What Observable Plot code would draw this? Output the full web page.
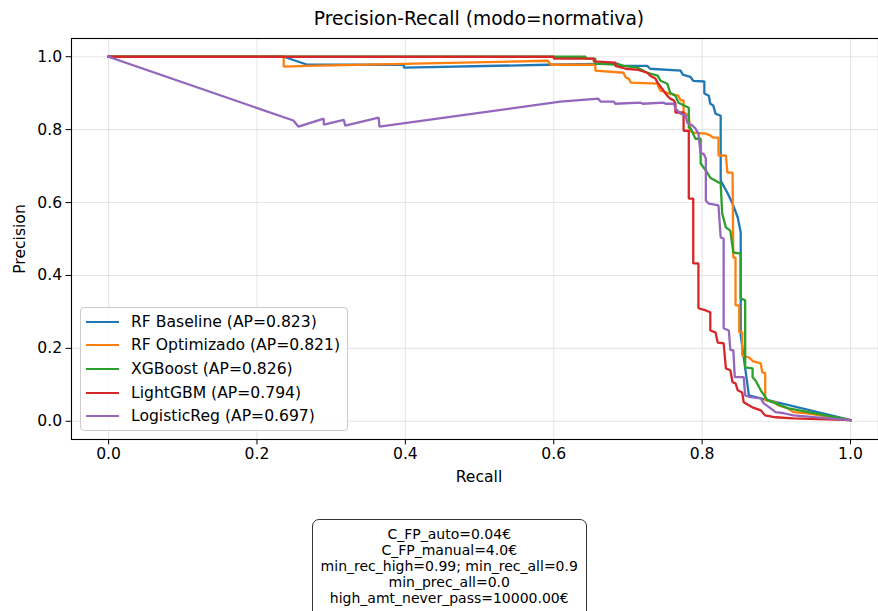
<!DOCTYPE html>
<html><head><meta charset="utf-8">
<script src="https://cdn.jsdelivr.net/npm/d3@7"></script>
<script src="https://cdn.jsdelivr.net/npm/@observablehq/plot@0.6"></script>
<style>
html,body{margin:0;padding:0;background:#fff;overflow:hidden;}
#wrap{position:relative;width:878px;height:611px;font-family:"DejaVu Sans",sans-serif;color:#000;overflow:hidden;}
#title{position:absolute;left:0;top:8px;width:958px;text-align:center;font-size:18.7px;line-height:22px;}
#chart{position:absolute;left:0;top:0;}
#xlabel{position:absolute;left:0;width:958px;top:468px;text-align:center;font-size:15.6px;line-height:18px;}
#ylabel{position:absolute;left:20px;top:238.5px;font-size:15.6px;line-height:18px;transform:translate(-50%,-50%) rotate(-90deg);white-space:nowrap;}
#legend{position:absolute;left:79.5px;top:306.5px;width:268px;height:124px;box-sizing:border-box;border:1px solid #cccccc;border-radius:4px;background:rgba(255,255,255,0.8);}
.lrow{position:absolute;left:0;height:20px;width:260px;}
.lline{position:absolute;left:5px;top:9px;width:33px;height:2.3px;}
.ltext{position:absolute;left:50.5px;top:0;font-size:15.6px;line-height:20px;white-space:nowrap;}
#note{position:absolute;left:311.5px;top:518.5px;width:275.5px;height:130px;box-sizing:border-box;border:1px solid #333;border-radius:7px;background:#fff;text-align:center;font-size:14px;line-height:16.1px;padding-top:6.5px;}
</style></head>
<body>
<div id="wrap">
  <div id="chart"></div>
  <div id="title">Precision-Recall (modo=normativa)</div>
  <div id="xlabel">Recall</div>
  <div id="ylabel">Precision</div>
  <div id="legend"></div>
  <div id="note"></div>
</div>
<script>
// ---- data ----
const modelNames = ["RF Baseline", "RF Optimizado", "XGBoost", "LightGBM", "LogisticReg"];
const apValues = [0.823, 0.821, 0.826, 0.794, 0.697];
const colors = ["#1f77b4", "#ff7f0e", "#2ca02c", "#d62728", "#9467bd"];
const tickValues = [0.0, 0.2, 0.4, 0.6, 0.8, 1.0];
const noteLines = ["C_FP_auto=0.04€", "C_FP_manual=4.0€", "min_rec_high=0.99; min_rec_all=0.9", "min_prec_all=0.0", "high_amt_never_pass=10000.00€"];

const rfBaselineRecall = [0,0.236,0.268,0.398,0.398,0.592,0.686,0.690,0.726,0.730,0.771,0.774,0.784,0.788,0.803,0.803,0.809,0.811,0.815,0.818,0.825,0.825,0.834,0.841,0.848,0.852,0.852,0.863,1.0];
const rfBaselinePrecision = [1,1,0.978,0.978,0.970,0.978,0.981,0.975,0.975,0.967,0.962,0.951,0.945,0.934,0.932,0.899,0.893,0.871,0.866,0.844,0.838,0.660,0.627,0.597,0.559,0.518,0.236,0.071,0.003];

const rfOptRecall = [0,0.236,0.236,0.268,0.592,0.596,0.656,0.656,0.694,0.697,0.701,0.704,0.740,0.741,0.744,0.753,0.755,0.768,0.771,0.775,0.775,0.782,0.784,0.788,0.805,0.811,0.815,0.822,0.822,0.832,0.834,0.841,0.842,0.845,0.845,0.850,0.850,0.854,0.854,0.863,0.869,0.879,0.881,0.885,0.885,0.899,0.902,0.915,0.923,0.942,1.0];
const rfOptPrecision = [1,1,0.973,0.975,0.989,0.978,0.978,0.962,0.956,0.943,0.940,0.929,0.926,0.918,0.907,0.901,0.899,0.893,0.880,0.880,0.847,0.838,0.797,0.792,0.789,0.784,0.778,0.778,0.729,0.729,0.682,0.682,0.449,0.449,0.318,0.318,0.244,0.244,0.181,0.175,0.164,0.159,0.134,0.132,0.058,0.052,0.044,0.036,0.025,0.022,0.003];

const xgbRecall = [0,0.643,0.643,0.656,0.656,0.690,0.694,0.713,0.726,0.740,0.744,0.753,0.757,0.764,0.768,0.782,0.782,0.784,0.791,0.798,0.798,0.805,0.811,0.818,0.825,0.827,0.832,0.838,0.842,0.852,0.852,0.858,0.858,0.868,0.868,0.872,0.879,0.888,0.915,1.0];
const xgbPrecision = [1,1,0.995,0.995,0.981,0.978,0.975,0.970,0.956,0.948,0.934,0.926,0.901,0.893,0.874,0.860,0.805,0.805,0.775,0.775,0.707,0.688,0.668,0.660,0.652,0.570,0.532,0.523,0.463,0.460,0.337,0.332,0.148,0.145,0.121,0.112,0.085,0.058,0.036,0.003];

const lgbmRecall = [0,0.600,0.600,0.654,0.654,0.683,0.683,0.697,0.714,0.726,0.730,0.737,0.740,0.744,0.748,0.753,0.757,0.762,0.764,0.764,0.775,0.775,0.782,0.782,0.788,0.788,0.795,0.795,0.805,0.811,0.811,0.818,0.821,0.829,0.832,0.838,0.841,0.845,0.848,0.854,0.856,0.863,0.868,0.879,0.885,0.899,0.923,1.0];
const lgbmPrecision = [1,1,0.995,0.995,0.987,0.984,0.975,0.967,0.964,0.956,0.948,0.940,0.929,0.918,0.907,0.893,0.885,0.880,0.871,0.847,0.847,0.797,0.797,0.611,0.611,0.433,0.433,0.310,0.304,0.299,0.249,0.244,0.216,0.214,0.145,0.140,0.107,0.104,0.085,0.079,0.052,0.044,0.038,0.030,0.016,0.011,0.008,0.003];

const logRegRecall = [0,0.249,0.256,0.290,0.290,0.317,0.319,0.364,0.365,0.609,0.660,0.663,0.681,0.683,0.717,0.720,0.748,0.751,0.762,0.764,0.771,0.778,0.780,0.787,0.791,0.795,0.798,0.802,0.805,0.805,0.809,0.822,0.825,0.829,0.829,0.836,0.838,0.842,0.844,0.856,0.858,0.865,0.879,0.883,0.892,0.899,0.910,0.923,1.0];
const logRegPrecision = [1,0.825,0.808,0.830,0.814,0.827,0.811,0.833,0.808,0.877,0.885,0.877,0.877,0.871,0.874,0.871,0.874,0.871,0.871,0.858,0.844,0.838,0.819,0.811,0.803,0.789,0.734,0.734,0.721,0.605,0.597,0.592,0.504,0.501,0.255,0.249,0.195,0.195,0.121,0.121,0.071,0.066,0.063,0.049,0.036,0.025,0.022,0.016,0.003];

const curves = [
  [rfBaselineRecall, rfBaselinePrecision],
  [rfOptRecall, rfOptPrecision],
  [xgbRecall, xgbPrecision],
  [lgbmRecall, lgbmPrecision],
  [logRegRecall, logRegPrecision]
];

const lineMarks = curves.map(([rec, prec], i) =>
  Plot.line(rec.map((r, j) => ({recall: r, precision: prec[j]})),
    {x: "recall", y: "precision", stroke: colors[i], strokeWidth: 2.3, strokeLinejoin: "miter", strokeLinecap: "square"})
);

const chart = Plot.plot({
  width: 878, height: 490,
  marginTop: 38, marginBottom: 51, marginLeft: 71, marginRight: 0,
  style: {fontFamily: "DejaVu Sans", fontSize: "15.6px", color: "#000", background: "transparent"},
  x: {domain: [-0.05, 1.0377], ticks: tickValues, tickFormat: d3.format(".1f"), tickSize: 5.4, tickPadding: 3, label: null},
  y: {domain: [-0.05, 1.05], ticks: tickValues, tickFormat: d3.format(".1f"), tickSize: 5.4, tickPadding: 4, label: null},
  marks: [
    Plot.ruleX(tickValues, {stroke: "#b0b0b0", strokeOpacity: 0.3, strokeWidth: 1.1}),
    Plot.ruleY(tickValues, {stroke: "#b0b0b0", strokeOpacity: 0.3, strokeWidth: 1.1}),
    ...lineMarks,
    Plot.frame({stroke: "#000", strokeWidth: 1.1})
  ]
});
document.getElementById("chart").appendChild(chart);

// legend
const legend = document.getElementById("legend");
const rowCenters = [14.2, 37.2, 61.5, 85, 108.3];
modelNames.forEach((name, i) => {
  const row = document.createElement("div");
  row.className = "lrow";
  row.style.top = (rowCenters[i] - 10) + "px";
  const ln = document.createElement("div");
  ln.className = "lline"; ln.style.background = colors[i];
  const tx = document.createElement("div");
  tx.className = "ltext";
  tx.textContent = `${name} (AP=${apValues[i].toFixed(3)})`;
  row.appendChild(ln); row.appendChild(tx);
  legend.appendChild(row);
});

// note box
const note = document.getElementById("note");
noteLines.forEach(t => { const d = document.createElement("div"); d.textContent = t; note.appendChild(d); });
</script>
</body></html>
